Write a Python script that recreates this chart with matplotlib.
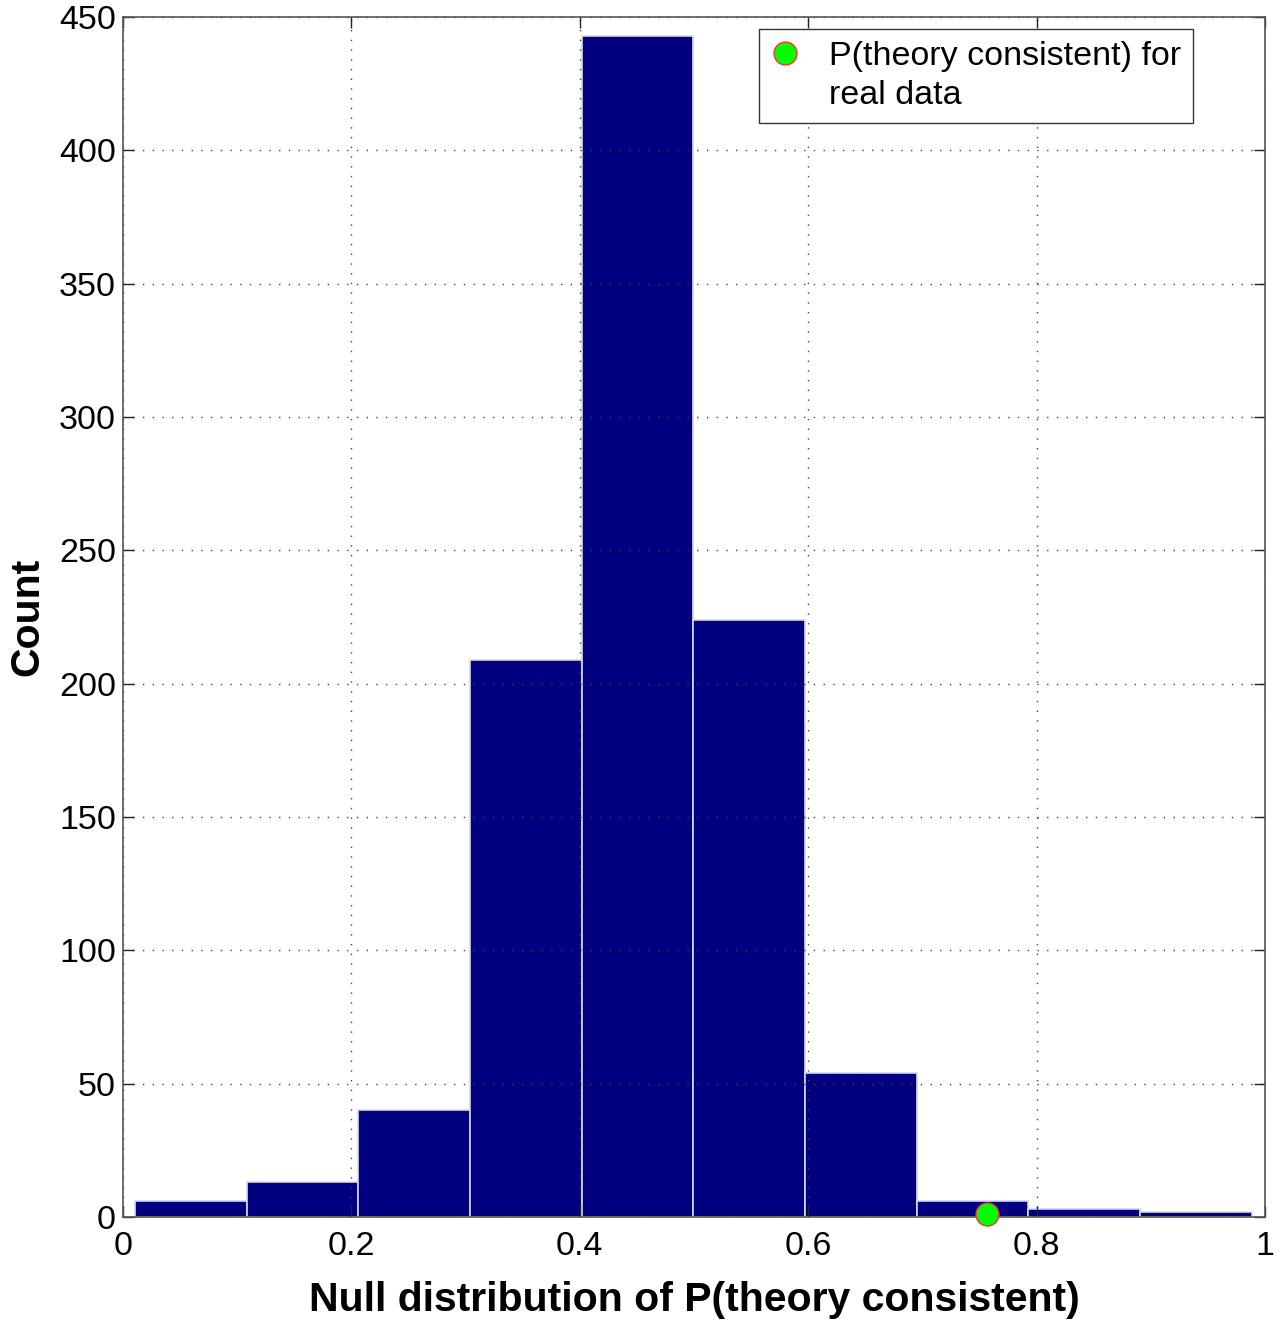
import numpy as np
import matplotlib
matplotlib.use("Agg")
import matplotlib.pyplot as plt
from matplotlib.lines import Line2D

plt.rcParams['font.family'] = ['Liberation Sans', 'DejaVu Sans']

# Data
bin_edges = [0.0105, 0.1083, 0.2061, 0.3039, 0.4017, 0.4995, 0.5973, 0.6951, 0.7929, 0.8907, 0.9885]
counts = [6, 13, 40, 209, 443, 224, 54, 6, 3, 2]
real_value_x = [0.757]
real_value_y = [1]
x_ticks = [0, 0.2, 0.4, 0.6, 0.8, 1]
x_tick_labels = ['0', '0.2', '0.4', '0.6', '0.8', '1']
y_ticks = [0, 50, 100, 150, 200, 250, 300, 350, 400, 450]
legend_lines = ['P(theory consistent) for', 'real data']

fig = plt.figure(figsize=(12.82, 13.21), dpi=100)
ax = fig.add_axes([0.0959, 0.0787, 0.8908, 0.9084])

edges = np.array(bin_edges)
widths = np.diff(edges)
ax.bar(edges[:-1], counts, width=widths, align='edge', color='#000080',
       edgecolor='#d8d8e8', linewidth=1.2, zorder=1)

ax.plot(real_value_x, real_value_y, 'o', markersize=16.5, markerfacecolor='#00ff00',
        markeredgecolor='#ff3030', markeredgewidth=1.0, zorder=5, clip_on=False)

ax.set_xlim(0, 1)
ax.set_ylim(0, 450)
ax.set_xticks(x_ticks)
ax.set_xticklabels(x_tick_labels)
ax.set_yticks(y_ticks)
ax.tick_params(direction='in', length=8, width=1.0, labelsize=24.5, top=True, right=True,
               colors='#222222', labelcolor='black')
ax.tick_params(axis='y', pad=5)
ax.tick_params(axis='x', pad=10)
ax.grid(True, linestyle=(0, (1, 6)), color='#444444', linewidth=1.0, zorder=3)
ax.set_axisbelow(False)
for s in ax.spines.values():
    s.set_color('#555555')
    s.set_linewidth(1.2)
    s.set_zorder(4)

ax.set_xlabel('Null distribution of P(theory consistent)', fontsize=29.5, fontweight='bold', labelpad=14)
ax.set_ylabel('Count', fontsize=29.5, fontweight='bold', labelpad=9)

handle = Line2D([], [], marker='o', linestyle='none', markersize=16.5,
                markerfacecolor='#00ff00', markeredgecolor='#ff3030')
blank = Line2D([], [], linestyle='none')
leg = ax.legend([handle, blank], legend_lines, loc='upper right',
                bbox_to_anchor=(0.937, 0.990), fontsize=24.5, fancybox=False, framealpha=1,
                edgecolor='#333333', handletextpad=0.9, borderpad=0.35, handlelength=0.8,
                labelspacing=0.25, borderaxespad=0)
leg.get_frame().set_linewidth(1.0)

fig.savefig('out.png', dpi=100)
